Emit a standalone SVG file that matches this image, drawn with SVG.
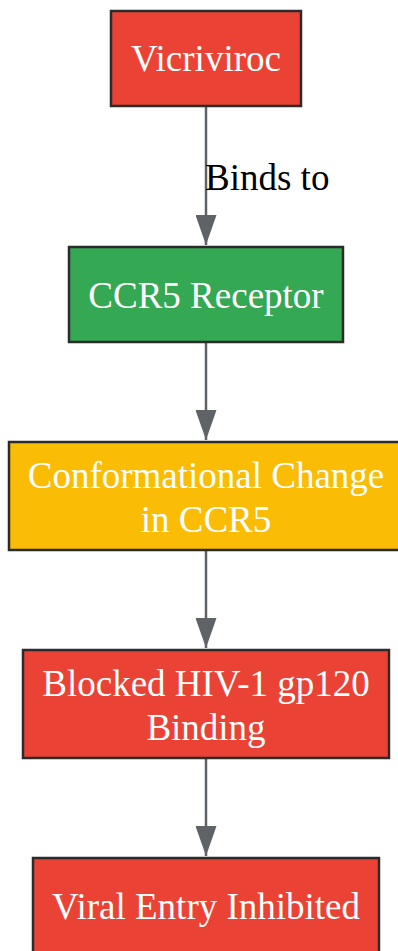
<svg xmlns="http://www.w3.org/2000/svg" width="398" height="951" viewBox="0 0 398 951">
<defs>
<style>
.n{stroke:#2b2b2b;stroke-width:2.5}
.t{font-family:"Liberation Serif",serif;font-size:37px;fill:#ffffff;text-anchor:middle}
.e{stroke:#5f6368;stroke-width:2.5;fill:none}
.l{font-family:"Liberation Serif",serif;font-size:37px;fill:#000000}
</style>
<marker id="a" markerWidth="30" markerHeight="21" refX="30" refY="10.5" orient="auto" markerUnits="userSpaceOnUse" viewBox="0 0 30 21">
<path d="M0,0 L30,10.5 L0,21 Z" fill="#5f6368"/>
</marker>
</defs>
<g id="edges">
<path class="e" d="M206,107 V245" marker-end="url(#a)"/>
<text class="l" x="205" y="190">Binds to</text>
<path class="e" d="M206,343 V440" marker-end="url(#a)"/>
<path class="e" d="M206,551 V648" marker-end="url(#a)"/>
<path class="e" d="M206,759 V856" marker-end="url(#a)"/>
</g>
<g id="vicriviroc">
<rect class="n" x="111" y="11" width="190" height="95" fill="#ea4335"/>
<text class="t" x="206" y="71">Vicriviroc</text>
</g>
<g id="ccr5">
<rect class="n" x="69" y="247" width="274" height="95" fill="#34a853"/>
<text class="t" x="206" y="308">CCR5 Receptor</text>
</g>
<g id="conformational">
<rect class="n" x="9" y="442" width="392" height="108" fill="#fbbc05"/>
<text class="t" x="206" y="488">Conformational Change</text>
<text class="t" x="206" y="532">in CCR5</text>
</g>
<g id="blocked">
<rect class="n" x="23" y="650" width="366" height="108" fill="#ea4335"/>
<text class="t" x="206" y="696">Blocked HIV-1 gp120</text>
<text class="t" x="206" y="740">Binding</text>
</g>
<g id="viral">
<rect class="n" x="33" y="858" width="346" height="108" fill="#ea4335"/>
<text class="t" x="206" y="919">Viral Entry Inhibited</text>
</g>
</svg>
